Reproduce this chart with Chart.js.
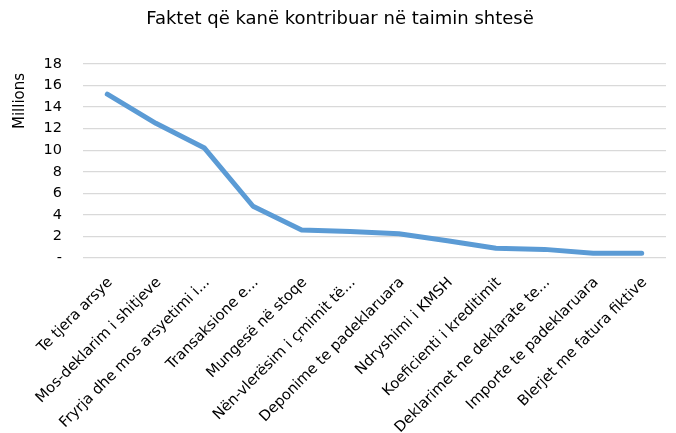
<!DOCTYPE html>
<html lang="sq">
<head>
    <meta charset="UTF-8">
    <title>Faktet që kanë kontribuar në taimin shtesë</title>
    <script src="https://cdn.jsdelivr.net/npm/chart.js"></script>
    <style>
        body { margin: 0; background: #fff; }
        #wrap { width: 676px; height: 433px; }
    </style>
</head>
<body>
    <div id="wrap"><canvas id="chart" width="676" height="433"></canvas></div>

    <script>
        const categories = [
            'Te tjera arsye',
            'Mos-deklarim i shitjeve',
            'Fryrja dhe mos arsyetimi i...',
            'Transaksione e...',
            'Mungesë në stoqe',
            'Nën-vlerësim i çmimit të...',
            'Deponime te padeklaruara',
            'Ndryshimi i KMSH',
            'Koeficienti i kreditimit',
            'Deklarimet ne deklarate te...',
            'Importe te padeklaruara',
            'Blerjet me fatura fiktive'
        ];
        // values in millions
        const values = [15.2, 12.5, 10.2, 4.8, 2.6, 2.45, 2.25, 1.6, 0.9, 0.8, 0.45, 0.45];
        const yTicks = [0, 2, 4, 6, 8, 10, 12, 14, 16, 18];

        const chartTitle = 'Faktet që kanë kontribuar në taimin shtesë';
        const unitLabel = 'Millions';
        const fontFamily = '"DejaVu Sans", sans-serif';

        // title and display-unit label, placed like the spreadsheet original
        const textPlugin = {
            id: 'textPlugin',
            afterDraw(chart) {
                const ctx = chart.ctx;
                ctx.save();
                ctx.fillStyle = '#000';
                ctx.font = '18px ' + fontFamily;
                ctx.textAlign = 'center';
                ctx.textBaseline = 'middle';
                ctx.fillText(chartTitle, 340, 19);
                ctx.translate(20, 101);
                ctx.rotate(-Math.PI / 2);
                ctx.font = '15px ' + fontFamily;
                ctx.fillText(unitLabel, 0, 0);
                ctx.restore();
            }
        };

        new Chart(document.getElementById('chart'), {
            type: 'line',
            data: {
                labels: categories,
                datasets: [{
                    data: values,
                    borderColor: '#5B9BD5',
                    borderWidth: 5,
                    borderCapStyle: 'round',
                    borderJoinStyle: 'round',
                    pointRadius: 0,
                    tension: 0,
                    fill: false
                }]
            },
            options: {
                responsive: false,
                animation: false,
                layout: { padding: { top: 64, right: 10, left: 0, bottom: 0 } },
                plugins: {
                    legend: { display: false },
                    tooltip: { enabled: false }
                },
                scales: {
                    x: {
                        offset: true,
                        grid: { display: false },
                        border: { display: false },
                        ticks: {
                            color: '#000',
                            font: { family: fontFamily, size: 14.7 },
                            maxRotation: 45,
                            minRotation: 45,
                            autoSkip: false,
                            labelOffset: 3,
                            padding: 8
                        },
                        afterFit(scale) { scale.height = 433 - 258; }
                    },
                    y: {
                        min: 0,
                        max: 18,
                        afterBuildTicks(scale) {
                            scale.ticks = yTicks.map(v => ({ value: v }));
                        },
                        grid: { color: '#D9D9D9', lineWidth: 1.3, drawTicks: false },
                        border: { display: false },
                        ticks: {
                            color: '#000',
                            font: { family: fontFamily, size: 14.5 },
                            padding: 21,
                            callback: v => v === 0 ? '-' : v
                        },
                        afterFit(scale) { scale.width = 83; }
                    }
                }
            },
            plugins: [textPlugin]
        });
    </script>
</body>
</html>
